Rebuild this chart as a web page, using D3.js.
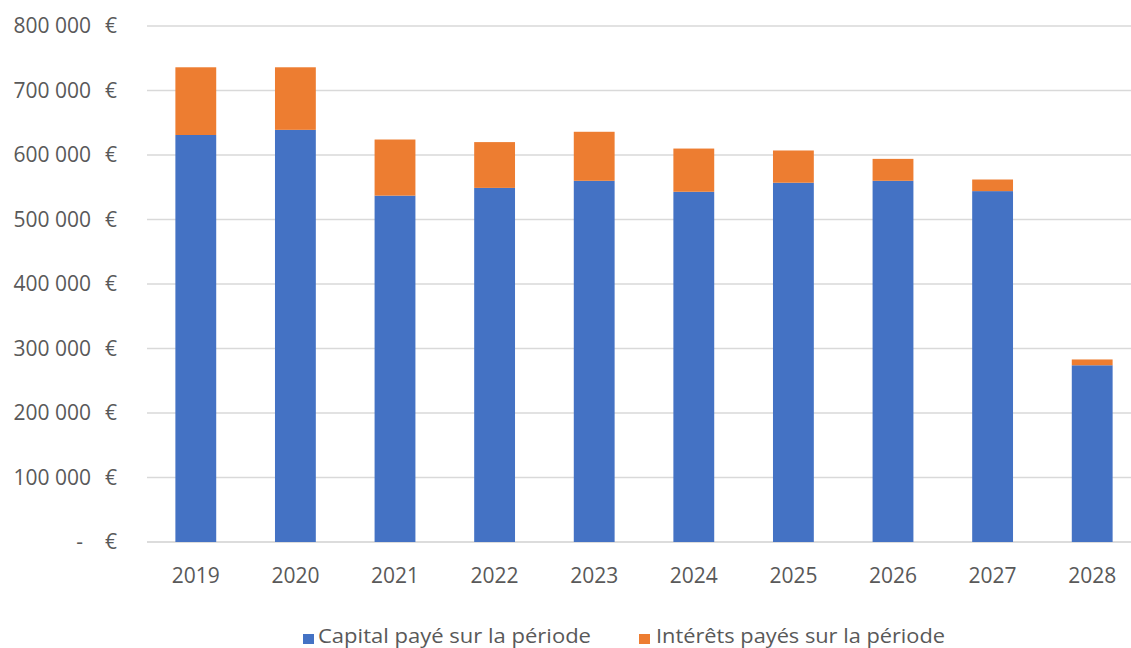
<!DOCTYPE html>
<html><head><meta charset="utf-8">
<script src="https://cdn.jsdelivr.net/npm/d3@7"></script>
<style>
html,body{margin:0;padding:0;background:#fff;}
svg{display:block;}
text{font-family:"Open Sans",sans-serif;fill:#595959;}
</style></head>
<body><svg id="c" width="1131" height="648"></svg>
<script>
const years = ["2019","2020","2021","2022","2023","2024","2025","2026","2027","2028"];
const capital = [631000,639000,537000,549000,560000,543000,557000,560000,544000,274000];
const interets = [105000,97000,87000,71000,76000,67000,50000,34000,18000,9000];
const yTicks = [0,100000,200000,300000,400000,500000,600000,700000,800000];
const seriesNames = ["Capital payé sur la période","Intérêts payés sur la période"];
const colors = ["#4472C4","#ED7D31"];

const svg = d3.select("#c");
const x = d3.scaleBand().domain(years).range([146,1142]).paddingInner(0.59).paddingOuter(0.295);
const y = d3.scaleLinear().domain([0,800000]).range([542,26]);

const fmtNum = v => v===0 ? "-" : d3.format(",")(v).replace(/,/g," ");

// gridlines
svg.append("g").selectAll("line").data(yTicks).join("line")
  .attr("x1",147).attr("x2",1131)
  .attr("y1",d=>y(d)).attr("y2",d=>y(d))
  .attr("stroke",d=>d===0?"#d0d0d0":"#d9d9d9").attr("stroke-width",1.3);

// y labels
const yl = svg.append("g");
yl.selectAll("text.num").data(yTicks).join("text").attr("class","num")
  .attr("x",d=>d===0?83:91).attr("y",d=>y(d)+7)
  .attr("text-anchor","end").attr("font-size",21)
  .text(d=>fmtNum(d));
yl.selectAll("text.eur").data(yTicks).join("text").attr("class","eur")
  .attr("x",117).attr("y",d=>y(d)+7)
  .attr("text-anchor","end").attr("font-size",21)
  .text("€");

const rows = years.map((yr,i)=>({year:yr, capital:capital[i], interets:interets[i]}));
const stack = d3.stack().keys(["capital","interets"])(rows);

svg.append("g").selectAll("g").data(stack).join("g")
  .attr("fill",(d,i)=>colors[i])
  .selectAll("rect").data(d=>d).join("rect")
  .attr("x",d=>x(d.data.year))
  .attr("width",x.bandwidth())
  .attr("y",d=>y(d[1]))
  .attr("height",d=>y(d[0])-y(d[1]));

// x labels
svg.append("g").selectAll("text").data(years).join("text")
  .attr("x",d=>x(d)+x.bandwidth()/2).attr("y",583)
  .attr("text-anchor","middle").attr("font-size",21)
  .text(d=>d);

// legend
const leg = [{x:303,tx:318,w:273},{x:639,tx:656,w:289}];
seriesNames.forEach((n,i)=>{
  svg.append("rect").attr("x",leg[i].x).attr("y",634).attr("width",11).attr("height",10).attr("fill",colors[i]);
  svg.append("text").attr("x",leg[i].tx).attr("y",643).attr("font-size",20)
    .attr("textLength",leg[i].w).attr("lengthAdjust","spacingAndGlyphs").text(n);
});
</script></body></html>
